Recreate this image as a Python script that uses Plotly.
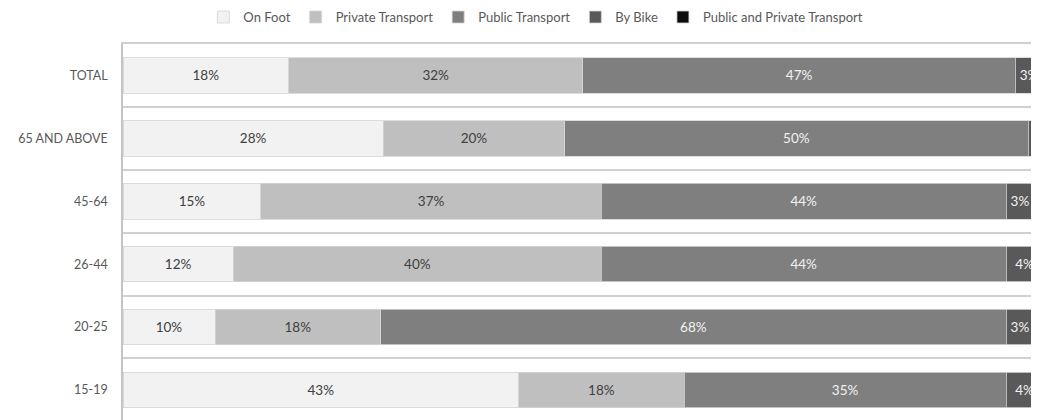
import plotly.graph_objects as go

categories = ["TOTAL", "65 AND ABOVE", "45-64", "26-44", "20-25", "15-19"]
series_names = ["On Foot", "Private Transport", "Public Transport", "By Bike", "Public and Private Transport"]
on_foot = [18, 28.3, 15, 12, 10, 43]
private_transport = [32, 19.7, 37, 40, 18, 18]
public_transport = [47, 50.4, 44, 44, 68, 35]
by_bike = [3, 1.6, 3, 4, 3, 4]
public_and_private = [0, 0, 0, 0, 0, 0]

values = [on_foot, private_transport, public_transport, by_bike, public_and_private]
colors = ["#f2f2f2", "#bfbfbf", "#7f7f7f", "#595959", "#0d0d0d"]
text_colors = ["#404040", "#404040", "#f2f2f2", "#f2f2f2", "#ffffff"]
show_text = [True, True, True, True, False]

n = len(categories)
ypos = [n - 1 - i for i in range(n)]

fig = go.Figure()
for name, vals, col, tcol, st in zip(series_names, values, colors, text_colors, show_text):
    fig.add_trace(go.Bar(
        name=name, x=vals, y=ypos, orientation="h",
        marker=dict(color=col, line=dict(color="#d4d4d4", width=0.8)),
        texttemplate="%{x:.0f}%" if st else None,
        textposition="inside" if st else "none",
        insidetextanchor="middle",
        textangle=0,
        textfont=dict(family="Lato", size=13.5, color=tcol),
        hoverinfo="skip",
    ))

fig.update_layout(
    barmode="stack",
    bargap=0.435,
    width=1031, height=412,
    margin=dict(l=115, r=0, t=36, b=0),
    paper_bgcolor="white", plot_bgcolor="white",
    font=dict(family="Lato", color="#595959"),
    uniformtext=dict(minsize=13, mode="hide"),
    legend=dict(
        orientation="h", xref="container", yref="container",
        x=0.512, xanchor="center", y=0.978, yanchor="middle",
        font=dict(family="Lato", size=13, color="#595959"),
        traceorder="normal", itemwidth=30, tracegroupgap=0,
    ),
    xaxis=dict(
        range=[0, 99.57], side="top", showticklabels=False, showgrid=False,
        zeroline=False, showline=True, linecolor="#d0d0d0", linewidth=1.5,
        fixedrange=True,
    ),
    yaxis=dict(
        range=[-0.478, n - 0.5], tickmode="array", tickvals=ypos, ticktext=categories,
        showgrid=False, zeroline=False, showline=True, linecolor="#c4c4c4", linewidth=1.5,
        ticks="", ticklabelstandoff=11,
        tickfont=dict(family="Lato", size=12.5, color="#595959"),
        minor=dict(tickmode="array", tickvals=[i - 0.5 for i in range(n + 1)],
                   showgrid=True, gridcolor="#d0d0d0", gridwidth=1.5, ticks=""),
        fixedrange=True,
    ),
)

fig.write_html("out.html")
